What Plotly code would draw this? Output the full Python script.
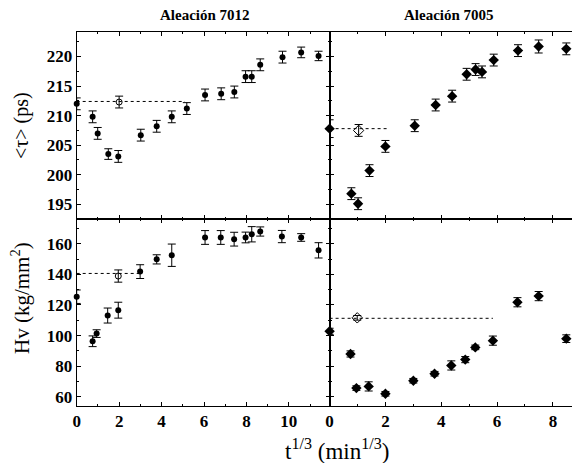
import plotly.graph_objects as go

# ---- data: Aleación 7012 (left), positron lifetime <tau> (ps)
tl_x = [0.0, 0.75, 0.99, 1.49, 1.96, 3.02, 3.77, 4.48, 5.19, 6.05, 6.81, 7.43, 7.96, 8.25, 8.65, 9.7, 10.58, 11.4]
tl_y = [212.0, 209.8, 207.0, 203.5, 203.1, 206.7, 208.2, 209.8, 211.2, 213.5, 213.7, 214.0, 216.6, 216.6, 218.6, 219.9, 220.7, 220.1]
tl_e = [1.0, 1.0, 1.0, 0.9, 1.0, 1.0, 1.0, 1.0, 1.0, 1.0, 1.0, 1.0, 1.0, 1.0, 1.0, 1.0, 0.9, 0.8]
tl_open_x = [2.0]
tl_open_y = [212.3]
tl_open_e = [1.0]
tl_dash_x = [0.0, 5.1]
tl_dash_y = [212.4, 212.4]

# Aleación 7005 (right), <tau>
tr_x = [0.0, 0.78, 1.02, 1.43, 2.0, 3.05, 3.8, 4.39, 4.91, 5.23, 5.46, 5.88, 6.75, 7.49, 8.48]
tr_y = [207.8, 196.8, 195.1, 200.7, 204.8, 208.3, 211.8, 213.3, 217.0, 217.8, 217.4, 219.4, 221.0, 221.7, 221.3]
tr_e = [1.5, 1.0, 1.0, 1.0, 1.0, 1.0, 1.0, 1.0, 1.0, 1.0, 1.0, 1.0, 1.0, 1.1, 1.0]
tr_open_x = [1.04]
tr_open_y = [207.5]
tr_open_e = [1.0]
tr_dash_x = [0.0, 2.13]
tr_dash_y = [207.8, 207.8]

# Aleación 7012, Hv (kg/mm2)
bl_x = [0.0, 0.75, 0.94, 1.46, 1.96, 2.99, 3.77, 4.48, 6.05, 6.79, 7.42, 7.96, 8.25, 8.65, 9.67, 10.58, 11.4]
bl_y = [125.4, 96.3, 101.3, 113.1, 116.6, 141.8, 149.8, 152.5, 164.1, 164.1, 163.0, 164.1, 166.2, 168.0, 164.7, 164.1, 155.7]
bl_e = [4.4, 3.5, 2.5, 4.9, 5.2, 4.5, 3.0, 7.3, 4.5, 4.5, 4.5, 3.5, 5.0, 3.0, 4.0, 2.5, 5.0]
bl_open_x = [1.96]
bl_open_y = [138.9]
bl_open_e = [4.0]
bl_dash_x = [0.0, 3.0]
bl_dash_y = [140.6, 140.6]

# Aleación 7005, Hv
br_x = [0.0, 0.75, 0.96, 1.40, 2.0, 3.0, 3.76, 4.36, 4.86, 5.22, 5.85, 6.73, 7.49, 8.48]
br_y = [102.8, 88.0, 65.7, 66.8, 62.0, 70.5, 75.1, 80.5, 84.3, 92.3, 96.7, 121.8, 125.8, 98.0]
br_e = [2.0, 2.0, 1.5, 3.0, 1.5, 1.5, 1.5, 3.0, 2.0, 1.5, 3.0, 3.0, 3.0, 2.5]
br_open_x = [0.99]
br_open_y = [111.6]
br_open_e = [1.5]
br_dash_x = [0.0, 5.85]
br_dash_y = [111.3, 111.3]

panel_titles = ["Aleación 7012", "Aleación 7005"]

FONT = "Liberation Serif"
fig = go.Figure()

def add_panel(xa, ya, x, y, e, ox, oy, oe, dx, dy, sym, msize):
    fig.add_trace(go.Scatter(x=dx, y=dy, xaxis=xa, yaxis=ya, mode="lines",
                             line=dict(color="black", width=1, dash="dot"),
                             showlegend=False, hoverinfo="skip"))
    fig.add_trace(go.Scatter(x=x, y=y, xaxis=xa, yaxis=ya, mode="markers",
                             error_y=dict(type="data", array=e, color="black",
                                          thickness=1, width=4),
                             marker=dict(symbol=sym, size=msize, color="black"),
                             showlegend=False, cliponaxis=False))
    fig.add_trace(go.Scatter(x=ox, y=oy, xaxis=xa, yaxis=ya, mode="markers",
                             error_y=dict(type="data", array=oe, color="black",
                                          thickness=1, width=4),
                             marker=dict(symbol=sym + "-open", size=msize, color="black",
                                         line=dict(width=1)),
                             showlegend=False, cliponaxis=False))

add_panel("x", "y", tl_x, tl_y, tl_e, tl_open_x, tl_open_y, tl_open_e, tl_dash_x, tl_dash_y, "circle", 6)
add_panel("x2", "y2", tr_x, tr_y, tr_e, tr_open_x, tr_open_y, tr_open_e, tr_dash_x, tr_dash_y, "diamond", 8)
add_panel("x3", "y3", bl_x, bl_y, bl_e, bl_open_x, bl_open_y, bl_open_e, bl_dash_x, bl_dash_y, "circle", 6)
add_panel("x4", "y4", br_x, br_y, br_e, br_open_x, br_open_y, br_open_e, br_dash_x, br_dash_y, "diamond", 8)

# page body has an 8px margin: figure is sized to fit the window exactly
OFF = 8
W, H = 580 - OFF, 463 - OFF

def px(v):
    return (v - OFF) / W

def py(v):
    return 1 - (v - OFF) / H

xl = [px(76.7), px(329.6)]
xr = [px(329.6), px(578.3)]
yt = [py(218.5), py(32.3)]
yb = [py(406.0), py(218.5)]

tickfont = dict(family=FONT, size=17, color="black", weight="bold")
common = dict(showline=True, linecolor="black", linewidth=1, mirror="ticks",
              ticks="inside", ticklen=4, tickcolor="black", tickwidth=1,
              showgrid=False, zeroline=False, tickfont=tickfont, automargin=False)

def xax(domain, anchor, rng, showlabels):
    return dict(domain=domain, anchor=anchor, range=rng, dtick=2, tick0=0,
                showticklabels=showlabels,
                minor=dict(ticks="inside", ticklen=2, dtick=1, tickcolor="black"),
                **common)

def yax(domain, anchor, rng, dt, mdt, showlabels):
    return dict(domain=domain, anchor=anchor, range=rng, dtick=dt, tick0=0,
                showticklabels=showlabels,
                minor=dict(ticks="inside", ticklen=2, dtick=mdt, tickcolor="black"),
                **common)

top_rng = [192.6, 224.1]
bot_rng = [54.0, 176.5]
left_rng = [0, 11.92]
right_rng = [0, 8.91]

def ann(text, x, y, size, angle=0, weight="normal"):
    return dict(text=text, x=px(x), y=py(y), xref="paper", yref="paper",
                xanchor="center", yanchor="middle", showarrow=False, textangle=angle,
                font=dict(family=FONT, size=size, color="black", weight=weight))

fig.update_layout(
    width=W, height=H,
    margin=dict(l=0, r=0, t=0, b=0),
    paper_bgcolor="white", plot_bgcolor="white",
    xaxis=xax(xl, "y", left_rng, False),
    xaxis2=xax(xr, "y2", right_rng, False),
    xaxis3=xax(xl, "y3", left_rng, True),
    xaxis4=xax(xr, "y4", right_rng, True),
    yaxis=yax(yt, "x", top_rng, 5, 2.5, True),
    yaxis2=yax(yt, "x2", top_rng, 5, 2.5, False),
    yaxis3=yax(yb, "x3", bot_rng, 20, 10, True),
    yaxis4=yax(yb, "x4", bot_rng, 20, 10, False),
    annotations=[
        ann(panel_titles[0], 205, 15, 15, weight="bold"),
        ann(panel_titles[1], 449, 15, 15, weight="bold"),
        ann("<τ> (ps)", 22, 126, 20, angle=-90),
        ann("Hv (kg/mm<sup>2</sup>)", 20, 298, 21, angle=-90),
        ann("t<sup>1/3</sup> (min<sup>1/3</sup>)", 337, 449, 23),
    ],
)

fig.write_html("out.html")
